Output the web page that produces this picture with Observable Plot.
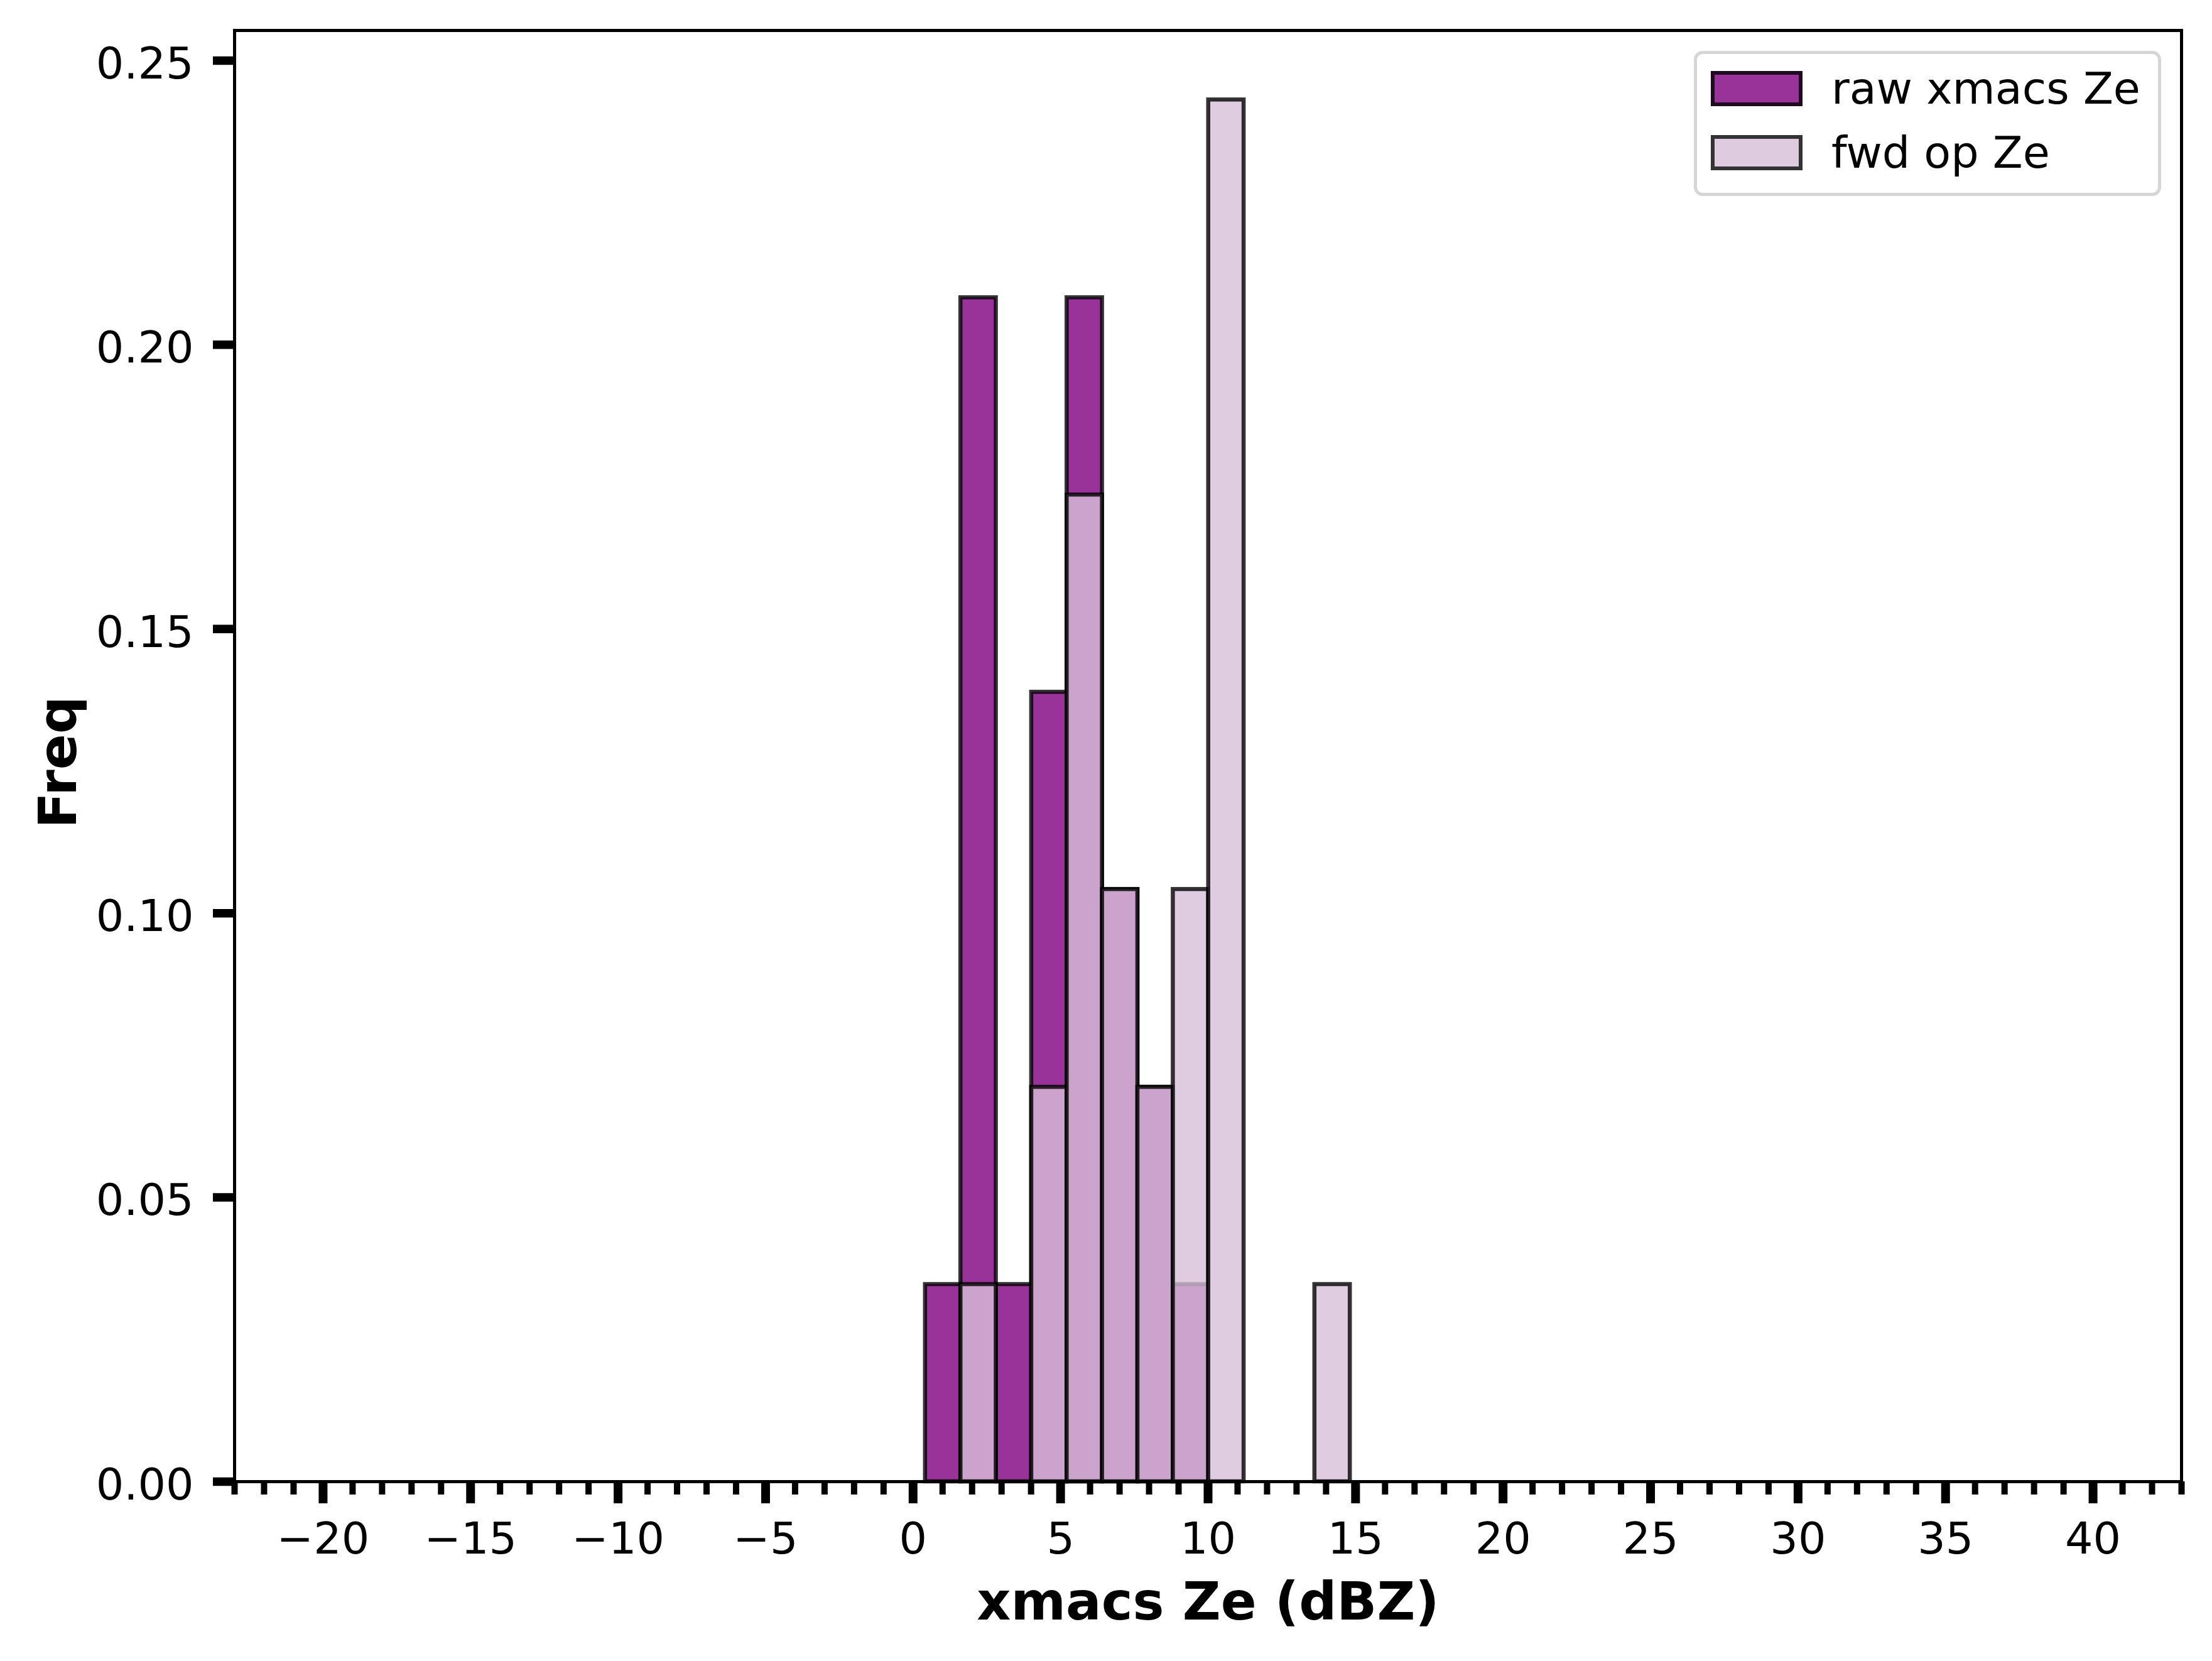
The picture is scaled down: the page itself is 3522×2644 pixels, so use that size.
<!DOCTYPE html>
<html>
<head>
<meta charset="utf-8">
<script src="https://cdn.jsdelivr.net/npm/d3@7"></script>
<script src="https://cdn.jsdelivr.net/npm/@observablehq/plot@0.6"></script>
<style>
  body { margin: 0; background: #fff; }
  #wrap { position: relative; width: 3522px; height: 2644px; font-family: "DejaVu Sans"; overflow: hidden; }
  .legend { position: absolute; left: 2697px; top: 81px; width: 744px; height: 231px; box-sizing: border-box;
            border: 5px solid #d6d6d6; border-radius: 14px; background: rgba(255,255,255,0.8); }
  .sw { position: absolute; left: 2724px; width: 146px; height: 56px; box-sizing: border-box; border: 6px solid #333; }
  .lt { position: absolute; left: 2916px; font-size: 70px; line-height: 70px; white-space: nowrap; color: #000; }
</style>
</head>
<body>
<div id="wrap"></div>
<script>
// ---- data ----
const binEdges = [0.416, 1.616, 2.816, 4.016, 5.216, 6.416, 7.616, 8.816, 10.016, 11.216, 12.416, 13.616, 14.816];
const rawFreq  = [0.0347, 0.2083, 0.0347, 0.1389, 0.2083, 0.1042, 0.0694, 0.0347, 0, 0, 0, 0];
const fwdFreq  = [0, 0.0347, 0, 0.0694, 0.1736, 0.1042, 0.0694, 0.1042, 0.2431, 0, 0, 0.0347];
const seriesNames = ["raw xmacs Ze", "fwd op Ze"];
const xMajorTicks = [-20, -15, -10, -5, 0, 5, 10, 15, 20, 25, 30, 35, 40];
const xMinorTicks = d3.range(-23, 44, 1);
const yTicks = [0, 0.05, 0.10, 0.15, 0.20, 0.25];
const xDomain = [-23, 43];
const yDomain = [0, 0.2553];
const xLabel = "xmacs Ze (dBZ)";
const yLabel = "Freq";

const toRows = (freq, name) => freq
  .map((f, i) => ({x1: binEdges[i], x2: binEdges[i + 1], y: f, series: name}))
  .filter(d => d.y > 0);
const rawRows = toRows(rawFreq, seriesNames[0]);
const fwdRows = toRows(fwdFreq, seriesNames[1]);

const barStyle = {x1: "x1", x2: "x2", y1: 0, y2: "y", fillOpacity: 0.8, stroke: "black", strokeOpacity: 0.8, strokeWidth: 6.5};

const chart = Plot.plot({
  width: 3522,
  height: 2644,
  marginLeft: 373,
  marginRight: 49,
  marginTop: 48,
  marginBottom: 286,
  x: {domain: xDomain},
  y: {domain: yDomain},
  style: {fontFamily: "DejaVu Sans", fontSize: "70px", color: "black", background: "white"},
  marks: [
    Plot.rect(rawRows, {...barStyle, fill: "purple"}),
    Plot.rect(fwdRows, {...barStyle, fill: "thistle"}),
    Plot.frame({stroke: "black", strokeWidth: 5}),
    Plot.axisX({ticks: xMinorTicks, tickSize: 21, strokeWidth: 10, text: null, label: null}),
    Plot.axisX({ticks: xMajorTicks, tickSize: 35, strokeWidth: 14, text: null, label: null}),
    Plot.axisX({ticks: xMajorTicks, tickSize: 0, tickPadding: 64.7, tickFormat: d3.format("d"), fontSize: 70, label: null}),
    Plot.axisY({ticks: yTicks, tickSize: 34, strokeWidth: 13.5, text: null, label: null}),
    Plot.axisY({ticks: yTicks, tickSize: 0, tickPadding: 65, tickFormat: d3.format(".2f"), fontSize: 70, dy: 6, label: null}),
    Plot.text([xLabel], {frameAnchor: "bottom", text: d => d, textAnchor: "middle", lineAnchor: "middle", dy: 192.5, fontSize: 84, fontWeight: "bold", fill: "black"}),
    Plot.text([yLabel], {frameAnchor: "left", text: d => d, textAnchor: "middle", lineAnchor: "middle", rotate: -90, dx: -279, dy: 10, fontSize: 84, fontWeight: "bold", fill: "black"})
  ]
});

const wrap = document.getElementById("wrap");
wrap.appendChild(chart);

// legend (HTML overlay)
const legend = document.createElement("div");
legend.className = "legend";
wrap.appendChild(legend);
const swatches = [
  {name: seriesNames[0], bg: "#993399", border: "#1f0a1f", top: 113, textTop: 106},
  {name: seriesNames[1], bg: "#dfcbdf", border: "#333333", top: 215, textTop: 207.5}
];
for (const s of swatches) {
  const sw = document.createElement("div");
  sw.className = "sw";
  sw.style.top = s.top + "px";
  sw.style.background = s.bg;
  sw.style.borderColor = s.border;
  wrap.appendChild(sw);
  const t = document.createElement("div");
  t.className = "lt";
  t.style.top = s.textTop + "px";
  t.textContent = s.name;
  wrap.appendChild(t);
}
</script>
</body>
</html>
